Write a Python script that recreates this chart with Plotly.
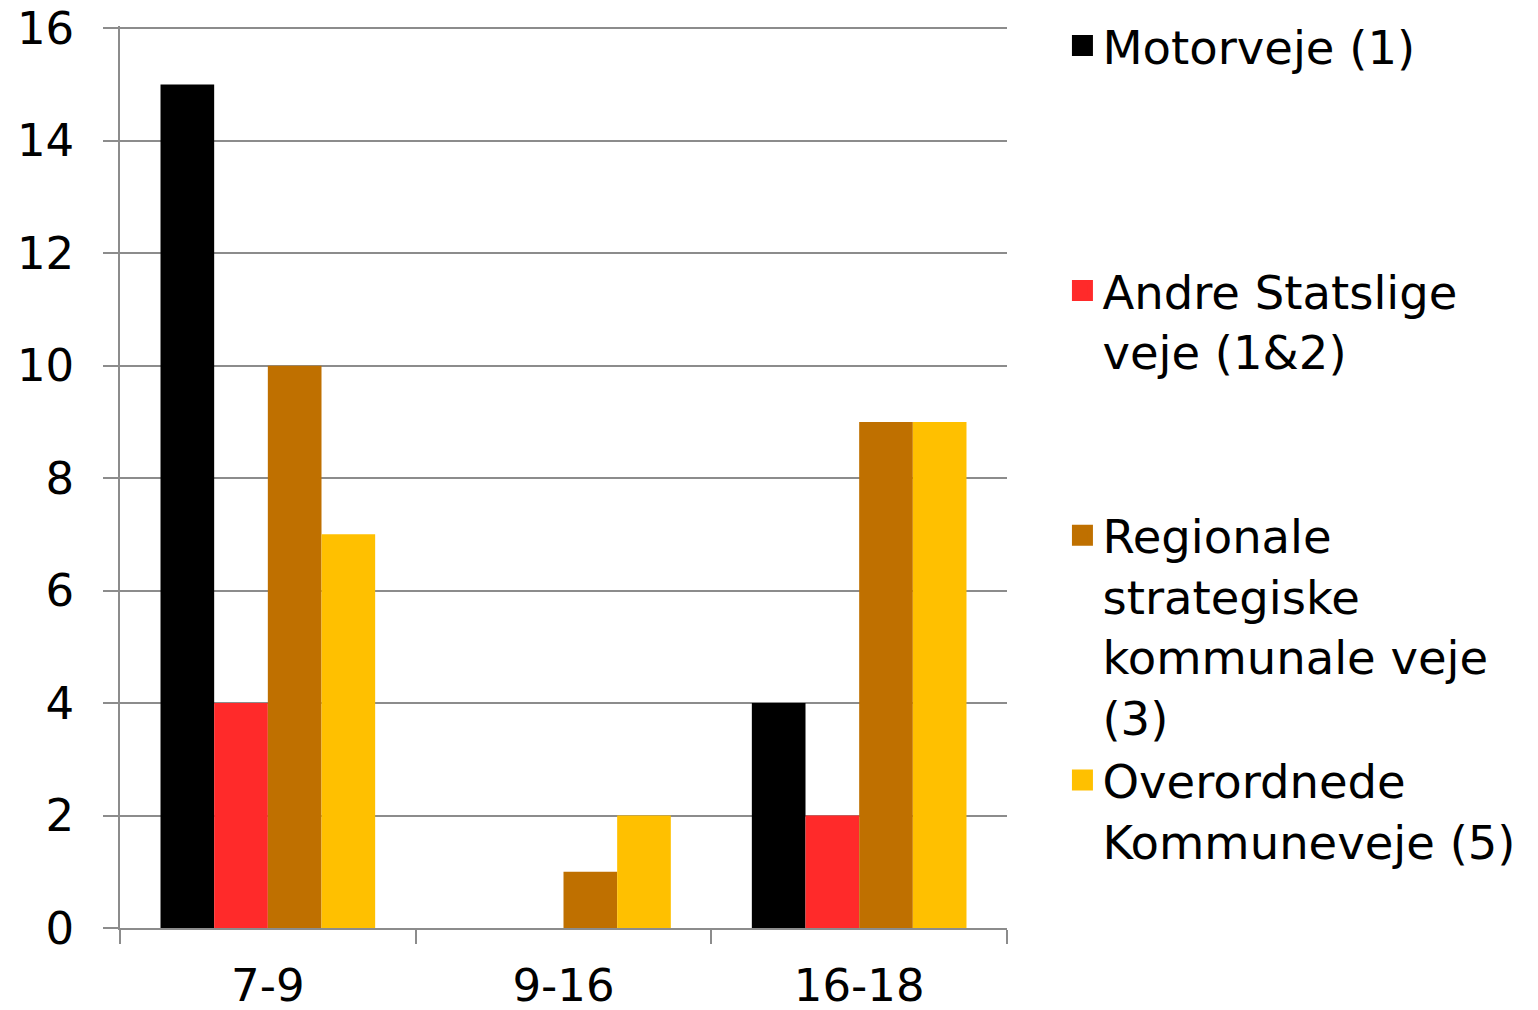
import plotly.graph_objects as go

# dados do gráfico
perioder = ['7-9', '9-16', '16-18']
motorveje = [15, 0, 4]
andre_statslige = [4, 0, 2]
regionale = [10, 1, 9]
overordnede = [7, 2, 9]

navne = ['Motorveje (1)<br> <br> <br> ',
         'Andre Statslige<br>veje (1&2)<br> <br> ',
         'Regionale<br>strategiske<br>kommunale veje<br>(3)',
         'Overordnede<br>Kommuneveje (5)']
farver = ['#000000', '#ff2a2a', '#bf7000', '#ffc000']
serier = [motorveje, andre_statslige, regionale, overordnede]


def lav_figur():
    fig = go.Figure()
    for navn, farve, vals in zip(navne, farver, serier):
        fig.add_trace(go.Bar(x=perioder, y=vals, name=navn, showlegend=False,
                             marker_color=farve, marker_line_width=0))
    # legenda com quadrados maiores
    for navn, farve in zip(navne, farver):
        fig.add_trace(go.Scatter(x=[perioder[0]], y=[None], name=navn,
                                 mode='markers', hoverinfo='skip',
                                 marker=dict(symbol='square', size=16, color=farve,
                                             line=dict(color=farve, width=5))))

    # a página tem margem de 8px no body
    fig.update_layout(
        width=1530, height=1002,
        barmode='group', bargap=0.274, bargroupgap=0,
        plot_bgcolor='white', paper_bgcolor='white',
        margin=dict(l=112, r=531, t=18, b=82, autoexpand=False),
        font=dict(family='DejaVu Sans', size=45, color='black'),
        legend=dict(x=1.0625, y=1.019, xanchor='left', yanchor='top',
                    valign='top', tracegroupgap=0, maxheight=1000,
                    font=dict(size=46.5)),
    )
    # 16.04 para a linha de grade do 16 aparecer
    fig.update_yaxes(range=[0, 16.04], tickvals=[0, 2, 4, 6, 8, 10, 12, 14, 16],
                     showgrid=True, automargin=False, ticklabeloverflow='allow',
                     gridcolor='#8c8c8c', gridwidth=1.5,
                     showline=True, linecolor='#8c8c8c', linewidth=1.5,
                     ticks='outside', ticklen=15, tickcolor='#8c8c8c',
                     tickwidth=1.5, ticklabelstandoff=20, zeroline=False)
    fig.update_xaxes(showline=True, linecolor='#8c8c8c', linewidth=1.5,
                     automargin=False,
                     ticks='outside', tickson='boundaries', ticklen=14,
                     tickcolor='#8c8c8c', tickwidth=1.5,
                     ticklabelstandoff=17)
    return fig


fig = lav_figur()
fig.write_html("out.html")
